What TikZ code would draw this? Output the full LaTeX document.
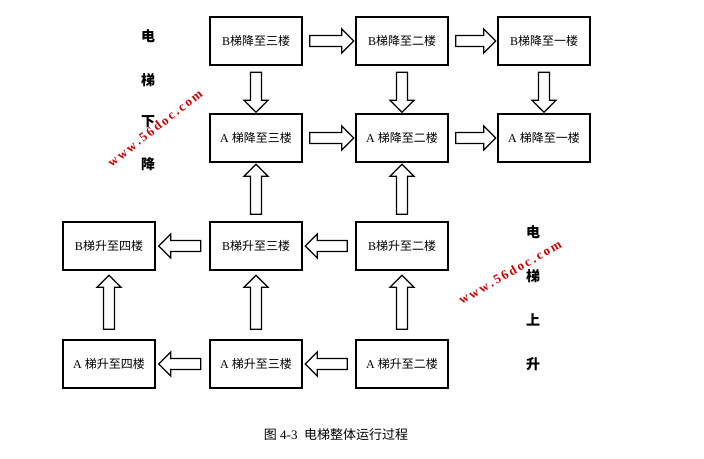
\documentclass[tikz,border=0pt]{standalone}
\usepackage{fontspec}
\setmainfont{Liberation Serif}
\newfontfamily\cjk{Noto Sans CJK SC}
\usetikzlibrary{shapes.arrows}
\newcommand{\lbl}[2]{#1{\cjk #2}}
\begin{document}
\begin{tikzpicture}[x=1pt,y=-1pt,
 box/.style={draw,line width=1.2pt,minimum width=92pt,minimum height=48pt,inner sep=0pt,font=\fontsize{12}{14}\selectfont},
 harr/.style={single arrow,draw,line width=1.3pt,fill=white,minimum width=24pt,single arrow head extend=5pt,single arrow tip angle=90,inner sep=3.5pt,minimum height=#1},
 R/.style={harr=#1,rotate=0}, L/.style={harr=#1,rotate=180},
 D/.style={harr=#1,rotate=-90}, U/.style={harr=#1,rotate=90},
 side/.style={font=\cjk\bfseries\fontsize{14}{16}\selectfont},
 wm/.style={text=red!80!black,font=\bfseries\fontsize{13}{15}\selectfont,rotate=#1}]
\useasboundingbox (0,0) rectangle (704,458);
% row 1
\node[box] (b3d) at (256,41) {\lbl{B}{梯降至三楼}};
\node[box] (b2d) at (402,41) {\lbl{B}{梯降至二楼}};
\node[box] (b1d) at (544,41) {\lbl{B}{梯降至一楼}};
% row 2
\node[box] (a3d) at (256,138) {\lbl{A }{梯降至三楼}};
\node[box] (a2d) at (402,138) {\lbl{A }{梯降至二楼}};
\node[box] (a1d) at (544,138) {\lbl{A }{梯降至一楼}};
% row 3
\node[box] (b4u) at (109,246) {\lbl{B}{梯升至四楼}};
\node[box] (b3u) at (256,246) {\lbl{B}{梯升至三楼}};
\node[box] (b2u) at (402,246) {\lbl{B}{梯升至二楼}};
% row 4
\node[box] (a4u) at (109,364) {\lbl{A }{梯升至四楼}};
\node[box] (a3u) at (256,364) {\lbl{A }{梯升至三楼}};
\node[box] (a2u) at (402,364) {\lbl{A }{梯升至二楼}};
% arrows
\path (b3d) -- (b2d) node[midway,R=44pt]{};
\path (b2d) -- (b1d) node[midway,R=40pt]{};
\path (a3d) -- (a2d) node[midway,R=44pt]{};
\path (a2d) -- (a1d) node[midway,R=40pt]{};
\path (b3d) -- (a3d) node[midway,D=40pt]{};
\path (b2d) -- (a2d) node[midway,D=40pt]{};
\path (b1d) -- (a1d) node[midway,D=40pt]{};
\path (b3u) -- (a3d) node[midway,U=50pt]{};
\path (b2u) -- (a2d) node[midway,U=50pt]{};
\path (b3u) -- (b4u) node[midway,L=42pt]{};
\path (b2u) -- (b3u) node[midway,L=42pt]{};
\path (a4u) -- (b4u) node[midway,U=54pt]{};
\path (a3u) -- (b3u) node[midway,U=54pt]{};
\path (a2u) -- (b2u) node[midway,U=54pt]{};
\path (a3u) -- (a4u) node[midway,L=42pt]{};
\path (a2u) -- (a3u) node[midway,L=42pt]{};
% side labels
\node[side] (s1) at (148,36) {电};
\node[side] (s2) at (148,80) {梯};
\node[side] (s3) at (148,122) {下};
\node[side] (s4) at (148,164) {降};
\node[side] (t1) at (533,232) {电};
\node[side] (t2) at (533,276) {梯};
\node[side] (t3) at (533,320) {上};
\node[side] (t4) at (533,364) {升};
% watermarks
\node[wm=38] (w1) at (155,128) {w\,w\,w\,.\,5\,6\,d\,o\,c\,.\,c\,o\,m};
\node[wm=30] (w2) at (510,272) {w\,w\,w\,.\,5\,6\,d\,o\,c\,.\,c\,o\,m};
% caption
\node[font=\fontsize{13}{15}\selectfont] (cap) at (336,435) {{\cjk 图} 4-3\ \ {\cjk 电梯整体运行过程}};
\end{tikzpicture}
\end{document}
